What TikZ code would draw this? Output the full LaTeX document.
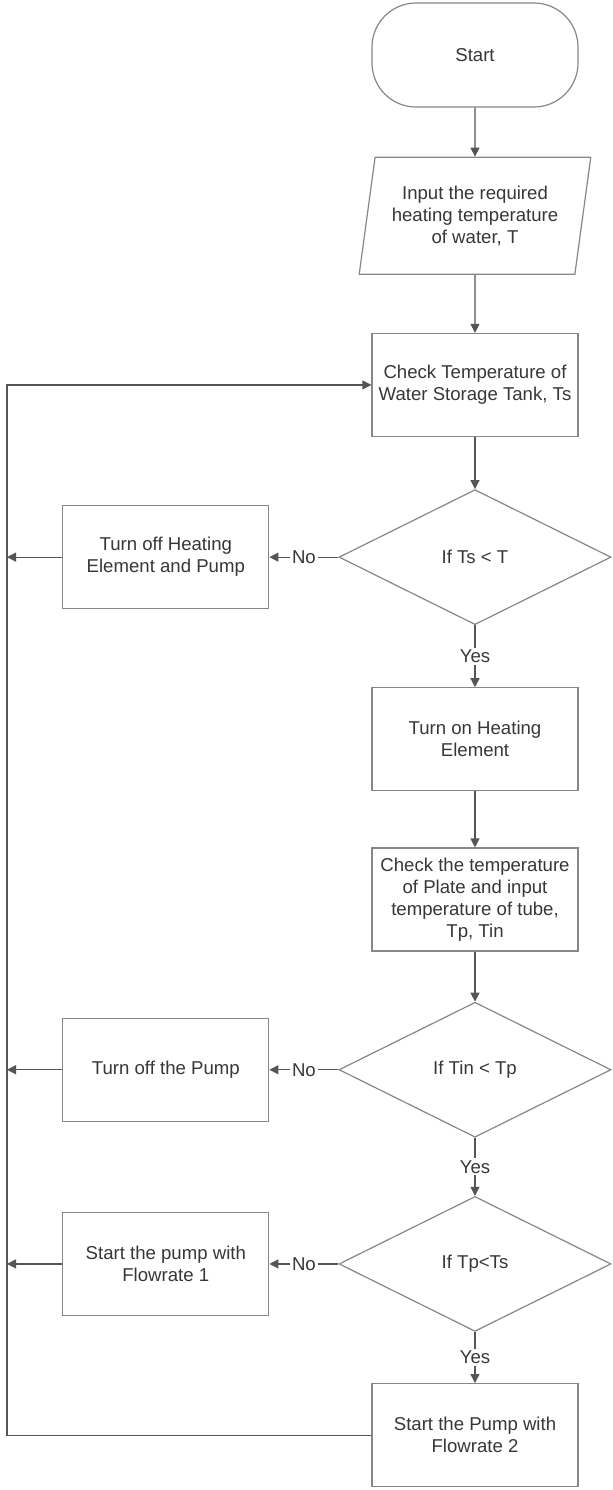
\documentclass[tikz,border=0pt]{standalone}
\usepackage{fontspec}
\setmainfont{Liberation Sans}
\usepackage{tikz}
\usetikzlibrary{arrows.meta,positioning,shapes.geometric}
\usepackage{xcolor}
\definecolor{linegray}{RGB}{85,85,85}
\definecolor{boxgray}{RGB}{135,135,135}
\definecolor{textgray}{RGB}{55,55,55}
\tikzset{
  basefont/.style={font=\fontsize{9.3}{11}\selectfont,text=textgray},
  startstop/.style={basefont,draw=boxgray,line width=0.6pt,rounded corners=22pt,
    minimum width=103pt,minimum height=52pt,align=center},
  io/.style={basefont,draw=boxgray,line width=0.6pt,trapezium,
    trapezium left angle=78,trapezium right angle=102,trapezium stretches=true,
    minimum width=116pt,minimum height=58.5pt,align=center,inner sep=1pt},
  process/.style={basefont,draw=boxgray,line width=0.6pt,
    minimum width=103pt,minimum height=51.5pt,align=center},
  decision/.style={basefont,draw=boxgray,line width=0.6pt,diamond,
    minimum width=136pt,minimum height=67.5pt,align=center,inner sep=0pt},
  flow/.style={draw=linegray,line width=0.6pt,-{Triangle[length=4.5pt,width=4.5pt]}},
  answer/.style={basefont,fill=white,inner sep=1pt}
}
\begin{document}
\begin{tikzpicture}[x=0.5pt,y=-0.5pt]
  \useasboundingbox[fill=white] (0,0) rectangle (613,1490);

  \node[startstop] (start) at (475,55) {Start};
  \node[io,below=24.5pt of start] (input) {Input the required\\heating temperature\\of water, T};
  \node[process,below=29pt of input] (check) {Check Temperature of\\Water Storage Tank, Ts};
  \node[decision,below=26pt of check] (ifts) {If Ts < T};
  \node[process,below=31pt of ifts] (heaton) {Turn on Heating\\Element};
  \node[process,below=28pt of heaton] (checkplate) {Check the temperature\\of Plate and input\\temperature of tube,\\Tp, Tin};
  \node[decision,below=25pt of checkplate] (iftin) {If Tin < Tp};
  \node[decision,below=29pt of iftin] (iftp) {If Tp<Ts};
  \node[process,below=25.5pt of iftp] (flowtwo) {Start the Pump with\\Flowrate 2};

  \node[process,left=34.5pt of ifts] (offboth) {Turn off Heating\\Element and Pump};
  \node[process,left=34.5pt of iftin] (offpump) {Turn off the Pump};
  \node[process,left=34.5pt of iftp] (flowone) {Start the pump with\\Flowrate 1};

  \coordinate (rail) at (7,0);

  \path (start) edge[flow] (input);
  \path (input) edge[flow] (check);
  \path (check) edge[flow] (ifts);
  \path (ifts) edge[flow] node[answer] {Yes} (heaton);
  \path (heaton) edge[flow] (checkplate);
  \path (checkplate) edge[flow] (iftin);
  \path (iftin) edge[flow] node[answer] {Yes} (iftp);
  \path (iftp) edge[flow] node[answer] {Yes} (flowtwo);

  \path (ifts) edge[flow] node[answer] {No} (offboth);
  \path (iftin) edge[flow] node[answer] {No} (offpump);
  \path (iftp) edge[flow] node[answer] {No} (flowone);

  \draw[flow] (offboth.west) -- (offboth.west -| rail);
  \draw[flow] (offpump.west) -- (offpump.west -| rail);
  \draw[flow] (flowone.west) -- (flowone.west -| rail);
  \draw[flow] (flowtwo.west) -- (flowtwo.west -| rail) -- (check.west -| rail) -- (check.west);
\end{tikzpicture}
\end{document}
